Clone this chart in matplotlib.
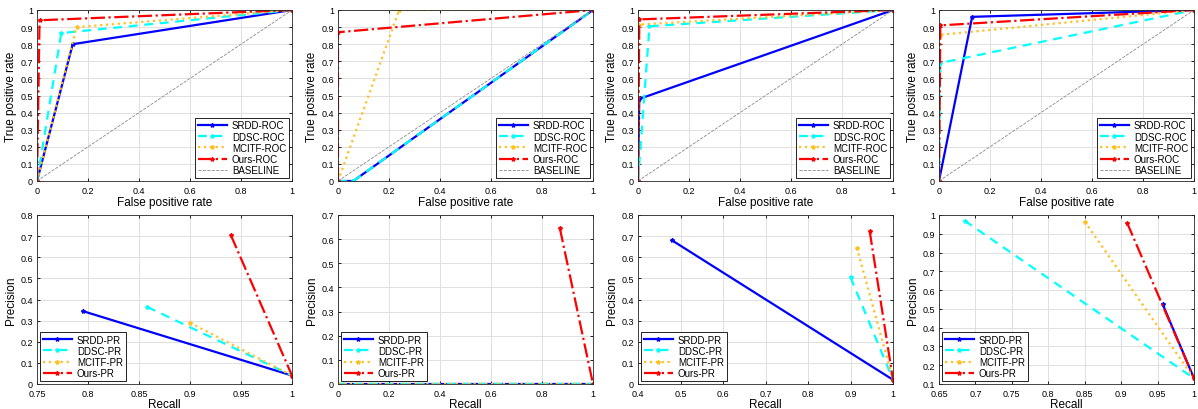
# ROC and PR curves for four datasets, MATLAB-ish style
import numpy as np
import matplotlib.pyplot as plt
from matplotlib.ticker import FuncFormatter

methods = ['SRDD', 'DDSC', 'MCITF', 'Ours']
colors = ['#0000FF', '#00FFFF', '#FFC020', '#FF0000']
styles = ['-', (0, (4, 3)), ':', '-.']

# ROC curves (fpr, tpr) per dataset
roc_fpr = [
    [[0, 0.14, 1], [0, 0.095, 1], [0, 0.155, 1], [0, 0.01, 1]],
    [[0, 0.06, 1], [0, 0.06, 1], [0, 0.24, 1], [0, 0.0, 1]],
    [[0, 0.005, 1], [0, 0.045, 1], [0, 0.005, 1], [0, 0.005, 1]],
    [[0, 0.13, 1], [0, 0.005, 1], [0, 0.005, 1], [0, 0.005, 1]],
]
roc_tpr = [
    [[0, 0.80, 1], [0, 0.865, 1], [0, 0.90, 1], [0, 0.94, 1]],
    [[0, 0.0, 1], [0, 0.0, 1], [0, 1.0, 1], [0, 0.87, 1]],
    [[0, 0.48, 1], [0, 0.905, 1], [0, 0.915, 1], [0, 0.945, 1]],
    [[0, 0.96, 1], [0, 0.69, 1], [0, 0.855, 1], [0, 0.91, 1]],
]

# PR curves (recall, precision) per dataset
pr_recall = [
    [[0.795, 1], [0.858, 1], [0.90, 1], [0.94, 1]],
    [[0, 1], [0, 1], [0, 1], [0.87, 1]],
    [[0.48, 1], [0.90, 1], [0.915, 1], [0.945, 1]],
    [[0.957, 1], [0.685, 1], [0.85, 1], [0.908, 1]],
]
pr_precision = [
    [[0.345, 0.04], [0.365, 0.04], [0.29, 0.04], [0.705, 0.04]],
    [[0.0, 0.0], [0.0, 0.0], [0.0, 0.0], [0.645, 0.0]],
    [[0.68, 0.02], [0.505, 0.02], [0.645, 0.02], [0.725, 0.02]],
    [[0.525, 0.13], [0.97, 0.13], [0.965, 0.13], [0.96, 0.13]],
]
pr_xlim = [(0.75, 1), (0, 1), (0.4, 1), (0.65, 1)]
pr_ylim = [(0, 0.8), (0, 0.7), (0, 0.8), (0.1, 1)]
pr_xstep = [0.05, 0.2, 0.1, 0.05]

W, H = 1198, 410
fig = plt.figure(figsize=(W / 100, H / 100), dpi=100)
plt.rcParams['font.family'] = ['Liberation Sans', 'DejaVu Sans']

lefts = [37, 338, 638, 939]
aw = 255
top_box = (11, 182)
bot_box = (216, 385)

fmt = FuncFormatter(lambda v, p: '%g' % round(v, 3))


def style_ax(ax):
    ax.grid(True, color='#e0e0e0', linewidth=0.7)
    ax.set_axisbelow(True)
    ax.tick_params(direction='in', length=2.5, labelsize=6.5, width=0.6,
                   top=True, right=True)
    ax.tick_params(axis='x', pad=3.5)
    ax.tick_params(axis='y', pad=3)
    for s in ax.spines.values():
        s.set_linewidth(0.6)
        s.set_color('#262626')
    ax.xaxis.set_major_formatter(fmt)
    ax.yaxis.set_major_formatter(fmt)


def mk_ax(left, box):
    y0, y1 = box
    return fig.add_axes([left / W, 1 - y1 / H, aw / W, (y1 - y0) / H])


def add_legend(ax, loc):
    leg = ax.legend(loc=loc, fontsize=7, fancybox=False, edgecolor='black',
                    framealpha=1, borderpad=0.3, labelspacing=0.12, handlelength=3.0,
                    borderaxespad=0.3, numpoints=1, handletextpad=0.5)
    leg.get_frame().set_linewidth(0.6)


for i in range(4):
    # ROC
    ax = mk_ax(lefts[i], top_box)
    for k in range(4):
        ax.plot(roc_fpr[i][k], roc_tpr[i][k], linestyle=styles[k], color=colors[k],
                linewidth=1.6, marker='*', markersize=3, label=methods[k] + '-ROC')
    ax.plot([0, 1], [0, 1], '--', color='#888888', linewidth=0.6, label='BASELINE')
    ax.set_xlim(0, 1)
    ax.set_ylim(0, 1)
    ax.set_xticks(np.arange(0, 1.01, 0.2))
    ax.set_yticks(np.arange(0, 1.01, 0.1))
    style_ax(ax)
    ax.set_xlabel('False positive rate', fontsize=8.5, labelpad=0.5)
    ax.set_ylabel('True positive rate', fontsize=8.5, labelpad=2)
    add_legend(ax, 'lower right')

    # PR
    ax = mk_ax(lefts[i], bot_box)
    for k in range(4):
        ax.plot(pr_recall[i][k], pr_precision[i][k], linestyle=styles[k], color=colors[k],
                linewidth=1.6, marker='*', markersize=3, label=methods[k] + '-PR')
    ax.set_xlim(*pr_xlim[i])
    ax.set_ylim(*pr_ylim[i])
    ax.set_xticks(np.arange(pr_xlim[i][0], pr_xlim[i][1] + 1e-6, pr_xstep[i]))
    ax.set_yticks(np.arange(pr_ylim[i][0], pr_ylim[i][1] + 1e-6, 0.1))
    style_ax(ax)
    ax.set_xlabel('Recall', fontsize=8.5, labelpad=0)
    ax.set_ylabel('Precision', fontsize=8.5, labelpad=2)
    add_legend(ax, 'lower left')

plt.savefig('out.png', dpi=100)
